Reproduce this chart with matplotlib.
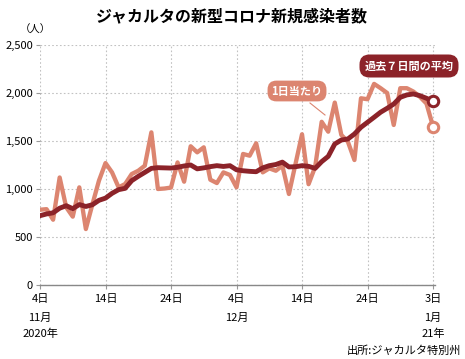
import matplotlib
matplotlib.use('Agg')
import matplotlib.pyplot as plt
import numpy as np

plt.rcParams['font.family'] = ['Noto Sans CJK JP', 'DejaVu Sans']

# ---- data (Nov 4, 2020 .. Jan 3, 2021) ----
daily = [784, 790, 680, 1120, 810, 712, 1017, 583, 840, 1087,
         1270, 1173, 1017, 1052, 1156, 1190, 1243, 1590, 1000, 1005,
         1015, 1277, 1076, 1445, 1382, 1434, 1097,
         1062, 1173, 1146, 1017, 1365, 1347, 1476, 1173, 1215, 1190,
         1243, 948, 1260, 1570, 1050, 1230, 1700, 1597, 1900, 1563,
         1493, 1302, 1945, 1935, 2095, 2050, 2000, 1667, 2050, 2050,
         2015, 1960, 1890, 1650]
avg7 = [722, 740, 752, 800, 826, 795, 838, 818, 836, 882,
        905, 955, 993, 1007, 1087, 1132, 1173, 1215, 1222, 1220,
        1218, 1226, 1240, 1250, 1210, 1220, 1233,
        1243, 1235, 1243, 1200, 1190, 1184, 1180, 1220, 1243, 1255,
        1280, 1230, 1232, 1243, 1236, 1215, 1285, 1340, 1469, 1510,
        1521, 1573, 1643, 1695, 1747, 1800, 1841, 1885, 1955, 1980,
        1990, 1972, 1945, 1913]
tick_pos = [0, 10, 20, 30, 40, 50, 60]
tick_labels = ['4日', '14日', '24日', '4日', '14日', '24日', '3日']
month_labels = {0: '11月', 30: '12月', 60: '1月'}
year_labels = {0: '2020年', 60: '21年'}
yticks = [0, 500, 1000, 1500, 2000, 2500]
ytick_labels = ['0', '500', '1,000', '1,500', '2,000', '2,500']

LIGHT = '#dc8570'
DARK = '#8c2329'
GRID = '#c2c2c2'

W, H = 465, 359
fig = plt.figure(figsize=(W / 100, H / 100), dpi=100)
def fx(x): return x / W
def fy(y): return 1 - y / H

ax = fig.add_axes([fx(40), fy(285), fx(435) - fx(40), fy(45) - fy(285)])
days = np.arange(len(daily))

ax.plot(days, daily, color=LIGHT, lw=3.1, solid_joinstyle='round', zorder=3)
ax.plot(days, avg7, color=DARK, lw=3.5, solid_joinstyle='round', zorder=4)
ax.plot(days[-1], daily[-1], 'o', ms=7.5, mfc='white', mec=LIGHT, mew=2.2, zorder=5, clip_on=False)
ax.plot(days[-1], avg7[-1], 'o', ms=7.5, mfc='white', mec=DARK, mew=2.2, zorder=6, clip_on=False)

ax.set_xlim(0, 60.3)
ax.set_ylim(0, 2500)
ax.set_xticks(tick_pos)
ax.set_xticklabels(tick_labels, fontsize=8)
ax.set_yticks(yticks)
ax.set_yticklabels(ytick_labels, fontsize=8)
ax.tick_params(axis='x', length=3, color='#999999', pad=3.5)
ax.tick_params(axis='y', length=3, color='#999999', pad=2)
ax.grid(True, linestyle=(0, (1.5, 2)), color=GRID, lw=0.8)
for s in ['top', 'right', 'left']:
    ax.spines[s].set_visible(False)
ax.spines['bottom'].set_color('#888888')
ax.spines['bottom'].set_linewidth(1.0)
ax.set_axisbelow(True)

for d, t in month_labels.items():
    fig.text(fx(40 + d * 6.55), fy(318), t, ha='center', va='center', fontsize=8)
for d, t in year_labels.items():
    fig.text(fx(40 + d * 6.55), fy(334), t, ha='center', va='center', fontsize=8)

fig.text(fx(232), fy(16), 'ジャカルタの新型コロナ新規感染者数', ha='center', va='center',
         fontsize=11.5, fontweight='bold')
fig.text(fx(35), fy(30), '（人）', ha='center', va='center', fontsize=7.5)
fig.text(fx(461), fy(351), '出所:ジャカルタ特別州', ha='right', va='center', fontsize=8)

fig.text(fx(297), fy(91), '1日当たり', ha='center', va='center', fontsize=8, color='white',
         fontweight='bold',
         bbox=dict(boxstyle='round,pad=0.35,rounding_size=0.8', fc=LIGHT, ec='none'))
fig.add_artist(plt.Line2D([fx(310), fx(325)], [fy(103), fy(115)], color=LIGHT, lw=0.8))
fig.text(fx(409), fy(66), '過去７日間の平均', ha='center', va='center', fontsize=8, color='white',
         fontweight='bold',
         bbox=dict(boxstyle='round,pad=0.45,rounding_size=0.9', fc=DARK, ec='none'))

fig.savefig('out.png', dpi=100)
